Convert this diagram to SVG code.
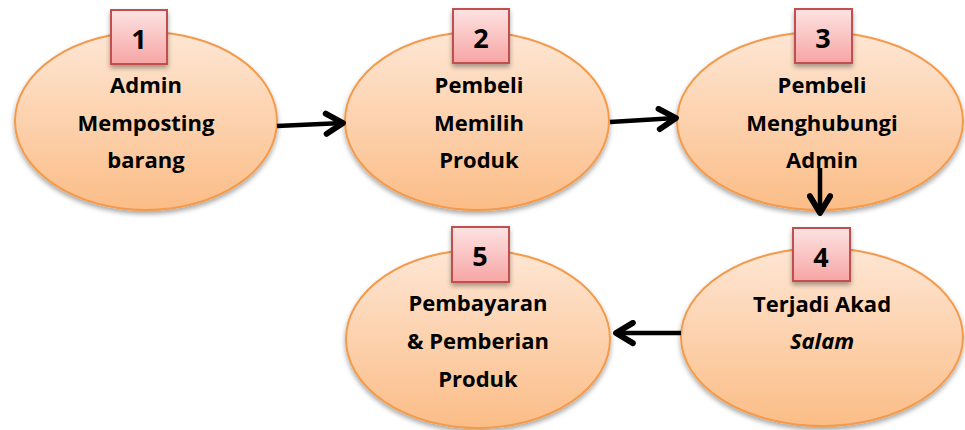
<svg xmlns="http://www.w3.org/2000/svg" width="965" height="430" viewBox="0 0 965 430">
<defs>
<linearGradient id="ell" x1="0" y1="0" x2="0" y2="1">
<stop offset="0" stop-color="#fee6d4"/>
<stop offset="1" stop-color="#fbbd87"/>
</linearGradient>
<linearGradient id="box" x1="0" y1="0" x2="0" y2="1">
<stop offset="0" stop-color="#fde3e3"/>
<stop offset="1" stop-color="#f7a5a4"/>
</linearGradient>
<filter id="sh" x="-20%" y="-20%" width="140%" height="150%">
<feGaussianBlur in="SourceAlpha" stdDeviation="2.5"/>
<feOffset dx="0" dy="3" result="b"/>
<feComponentTransfer><feFuncA type="linear" slope="0.35"/></feComponentTransfer>
<feMerge><feMergeNode/><feMergeNode in="SourceGraphic"/></feMerge>
</filter>
<marker id="ah" viewBox="0 0 12 12" refX="10" refY="6" markerWidth="6" markerHeight="6" markerUnits="strokeWidth" orient="auto">
<path d="M2.5,1.5 L10,6 L2.5,10.5" fill="none" stroke="#000" stroke-width="2.6" stroke-linecap="round" stroke-linejoin="round"/>
</marker>
<style>
.e{fill:url(#ell);stroke:#f39a4b;stroke-width:2;filter:url(#sh)}
.b{fill:url(#box);stroke:#c0504d;stroke-width:2;filter:url(#sh)}
.t{font-family:"Open Sans",Lato,sans-serif;font-weight:bold;font-size:22px;fill:#000;text-anchor:middle}
.n{font-family:"Open Sans",Lato,sans-serif;font-weight:bold;font-size:27px;fill:#000;text-anchor:middle}
.c{fill:none;stroke:#000;stroke-width:4.5;marker-end:url(#ah)}
</style>
</defs>
<g id="node1">
<ellipse class="e" cx="146" cy="121" rx="131" ry="89"/>
<rect class="b" x="111" y="10" width="56" height="54"/>
<text class="n" x="139" y="49">1</text>
<text class="t" x="146" y="93">Admin</text>
<text class="t" x="146" y="131">Memposting</text>
<text class="t" x="146" y="168">barang</text>
</g>
<g id="node2">
<ellipse class="e" cx="477" cy="121" rx="132" ry="89"/>
<rect class="b" x="453" y="9" width="56" height="54"/>
<text class="n" x="481" y="48">2</text>
<text class="t" x="479" y="93">Pembeli</text>
<text class="t" x="479" y="131">Memilih</text>
<text class="t" x="479" y="168">Produk</text>
</g>
<g id="node3">
<ellipse class="e" cx="820" cy="121" rx="143" ry="89"/>
<rect class="b" x="795" y="9" width="57" height="54"/>
<text class="n" x="823" y="48">3</text>
<text class="t" x="822" y="93">Pembeli</text>
<text class="t" x="822" y="131">Menghubungi</text>
<text class="t" x="822" y="168">Admin</text>
</g>
<g id="node4">
<ellipse class="e" cx="822" cy="337" rx="141" ry="89"/>
<rect class="b" x="793" y="228" width="57" height="53"/>
<text class="n" x="821" y="267">4</text>
<text class="t" x="822" y="312">Terjadi Akad</text>
<text class="t" x="822" y="349" font-style="italic">Salam</text>
</g>
<g id="node5">
<ellipse class="e" cx="478" cy="339" rx="132" ry="89"/>
<rect class="b" x="452" y="227" width="57" height="55"/>
<text class="n" x="480" y="266">5</text>
<text class="t" x="478" y="311">Pembayaran</text>
<text class="t" x="478" y="349">&amp; Pemberian</text>
<text class="t" x="478" y="387">Produk</text>
</g>
<g id="connectors">
<path class="c" d="M277,126 L343,123"/>
<path class="c" d="M610,122 L676,118"/>
<path class="c" d="M820,168 L820,213"/>
<path class="c" d="M681,333 L616,333"/>
</g>
</svg>
